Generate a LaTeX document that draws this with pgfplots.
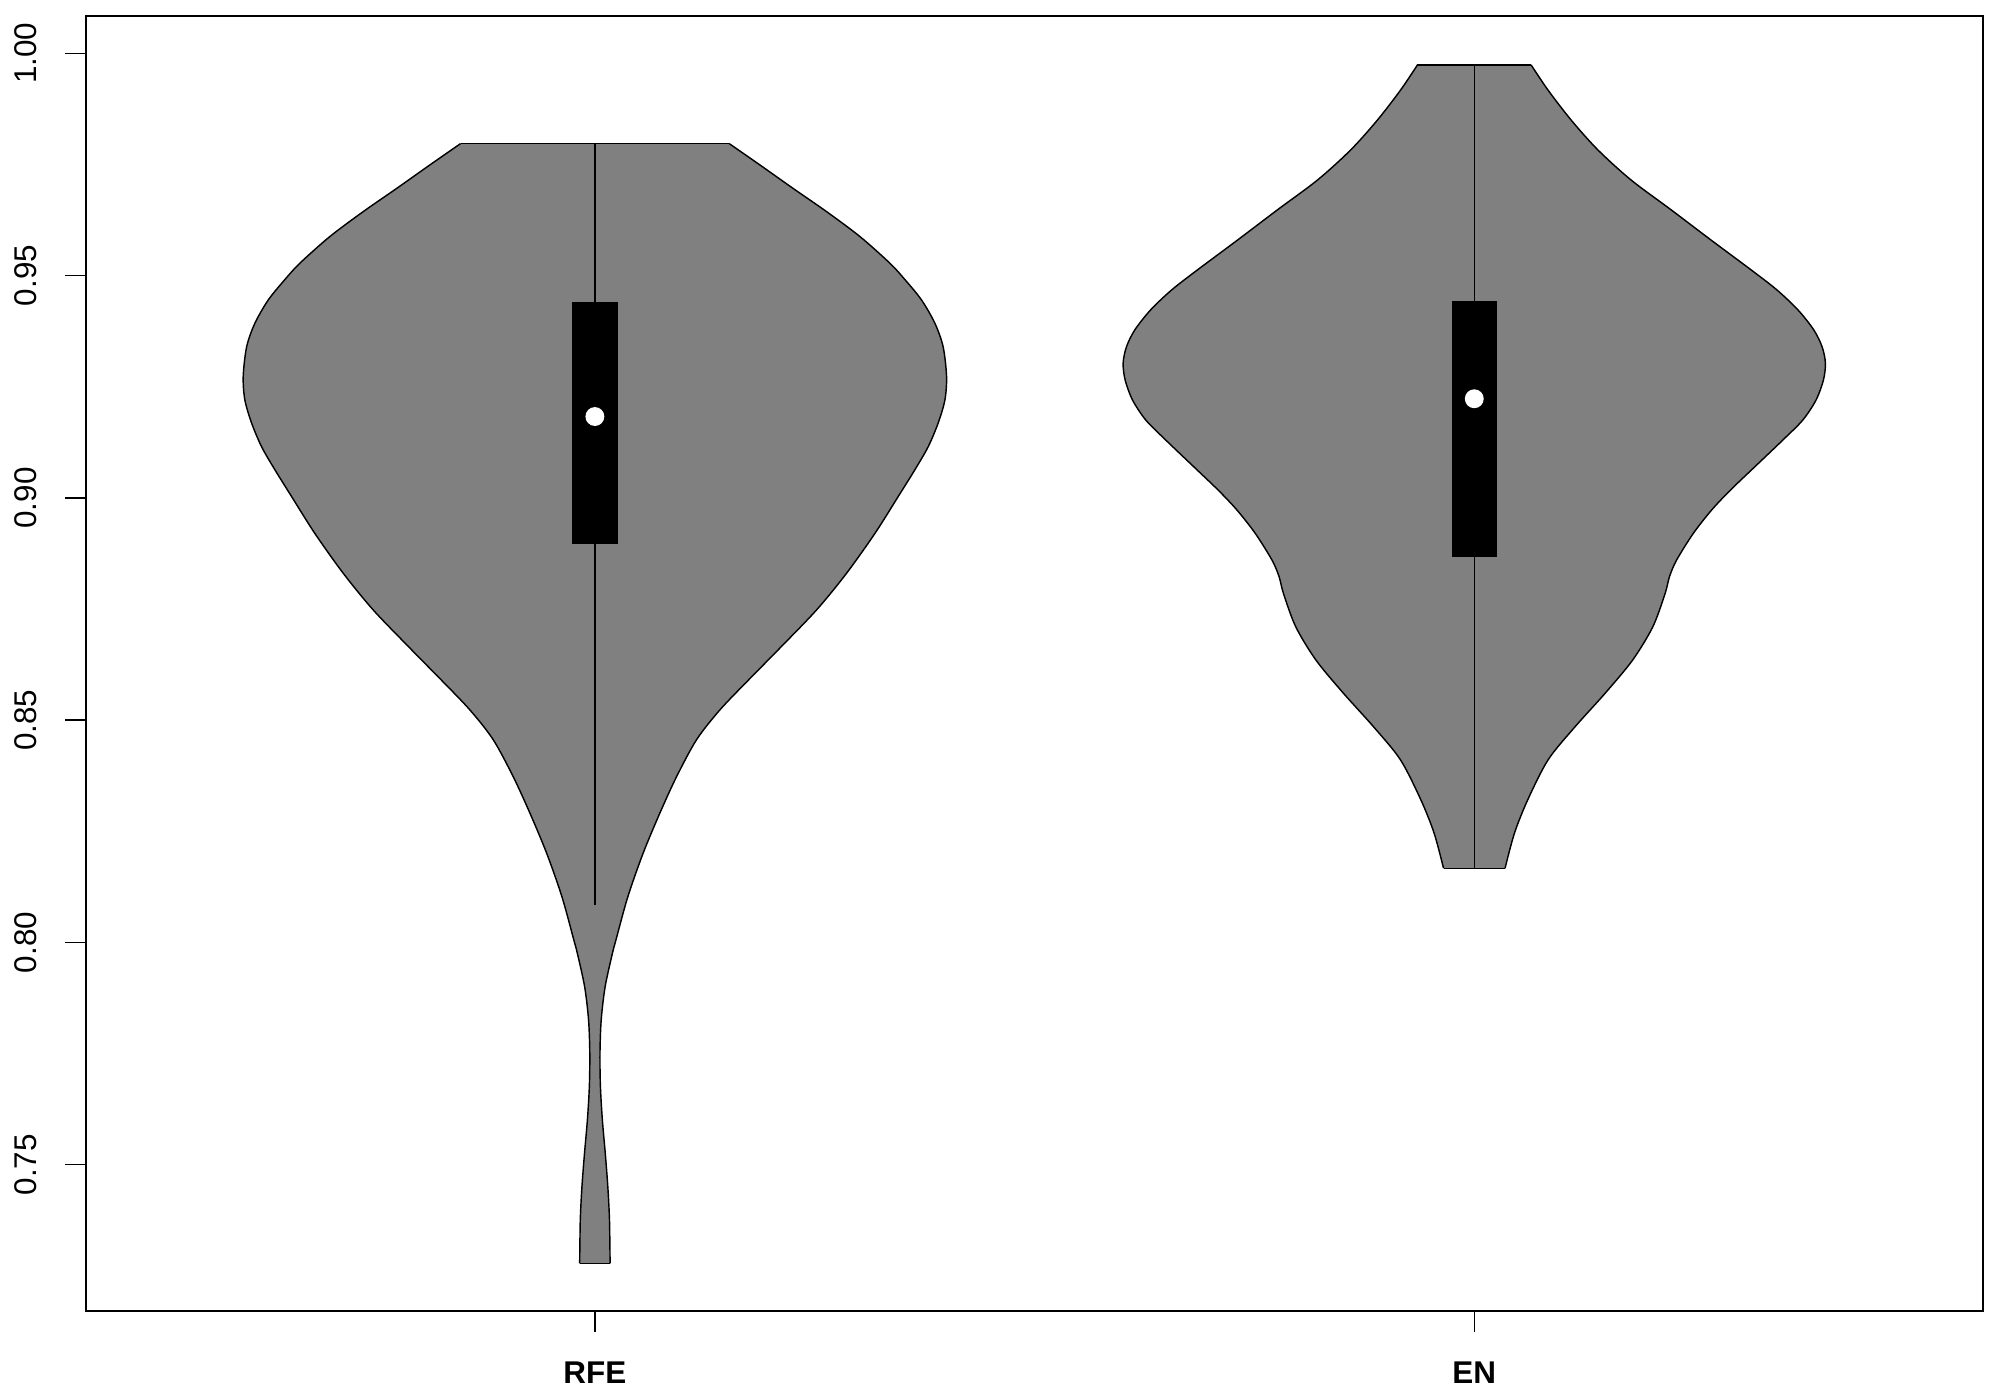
\documentclass[border=0pt]{standalone}
\usepackage{fontspec}
\setmainfont{Liberation Sans}
\usepackage{pgfplots}
\pgfplotsset{compat=1.18}
\usepackage{pgfplotstable}
\usepgfplotslibrary{fillbetween}
\definecolor{vgray}{RGB}{128,128,128}

\pgfplotstableread{
y w
0.9797 0.1527
0.9749 0.1876
0.9696 0.2255
0.9644 0.2634
0.9588 0.3013
0.9528 0.3354
0.9490 0.3530
0.9445 0.3715
0.9393 0.3866
0.9340 0.3960
0.9273 0.3999
0.9220 0.3980
0.9168 0.3903
0.9115 0.3790
0.9063 0.3638
0.9003 0.3449
0.8920 0.3184
0.8830 0.2860
0.8748 0.2521
0.8662 0.2103
0.8590 0.1745
0.8523 0.1421
0.8456 0.1156
0.8373 0.0929
0.8291 0.0739
0.8201 0.0549
0.8103 0.0375
0.8006 0.0240
0.7976 0.0200
0.7901 0.0117
0.7826 0.0072
0.7751 0.0058
0.7676 0.0063
0.7601 0.0085
0.7526 0.0118
0.7451 0.0147
0.7376 0.0166
0.7278 0.0173
}\rfe

\pgfplotstableread{
y w
0.9974 0.0646
0.9918 0.0836
0.9850 0.1101
0.9783 0.1404
0.9715 0.1783
0.9648 0.2238
0.9580 0.2692
0.9513 0.3147
0.9468 0.3440
0.9423 0.3680
0.9378 0.3860
0.9340 0.3955
0.9303 0.3993
0.9265 0.3970
0.9220 0.3886
0.9175 0.3735
0.9130 0.3508
0.9070 0.3190
0.9018 0.2915
0.8973 0.2700
0.8920 0.2490
0.8860 0.2300
0.8823 0.2220
0.8785 0.2170
0.8710 0.2030
0.8635 0.1800
0.8561 0.1490
0.8485 0.1145
0.8411 0.0840
0.8321 0.0608
0.8246 0.0457
0.8167 0.0350
}\en

\begin{document}
\begin{tikzpicture}
\begin{axis}[
  at={(0,0)}, anchor=south west,
  scale only axis, width=664.2pt, height=453.25pt,
  xmin=0.421, xmax=2.579, ymin=0.7171, ymax=1.0084,
  axis line style={line width=0.7pt},
  xtick={1,2}, xticklabels={\textbf{RFE},\textbf{EN}},
  ytick={0.75,0.80,0.85,0.90,0.95,1.00},
  yticklabels={0.75,0.80,0.85,0.90,0.95,1.00},
  tick align=outside, tick pos=left,
  major tick length=7.2pt,
  tick style={line width=0.5pt, black},
  ticklabel style={font=\fontsize{11}{13}\selectfont},
  yticklabel style={rotate=90, anchor=south},
  xticklabel style={anchor=north},
  xticklabel shift=7pt, yticklabel shift=6.3pt,
]
% RFE violin
\addplot[draw=none, smooth, name path=rfeL] table[x expr=1-\thisrow{w}, y=y]{\rfe};
\addplot[draw=none, smooth, name path=rfeR] table[x expr=1+\thisrow{w}, y=y]{\rfe};
\addplot[vgray] fill between[of=rfeL and rfeR, reverse=true];
\addplot[black, line width=0.5pt, smooth] table[x expr=1-\thisrow{w}, y=y]{\rfe};
\addplot[black, line width=0.5pt, smooth] table[x expr=1+\thisrow{w}, y=y]{\rfe};
\addplot[black, line width=0.5pt] coordinates {(0.8473,0.9797) (1.1527,0.9797)};
\addplot[black, line width=0.5pt] coordinates {(0.9827,0.7278) (1.0173,0.7278)};
% EN violin
\addplot[draw=none, smooth, name path=enL] table[x expr=2-\thisrow{w}, y=y]{\en};
\addplot[draw=none, smooth, name path=enR] table[x expr=2+\thisrow{w}, y=y]{\en};
\addplot[vgray] fill between[of=enL and enR, reverse=true];
\addplot[black, line width=0.5pt, smooth] table[x expr=2-\thisrow{w}, y=y]{\en};
\addplot[black, line width=0.5pt, smooth] table[x expr=2+\thisrow{w}, y=y]{\en};
\addplot[black, line width=0.5pt] coordinates {(1.9354,0.9974) (2.0646,0.9974)};
\addplot[black, line width=0.5pt] coordinates {(1.9650,0.8167) (2.0350,0.8167)};
% whiskers
\addplot[black, line width=0.5pt] coordinates {(1,0.8084) (1,0.9797)};
\addplot[black, line width=0.5pt] coordinates {(2,0.8167) (2,0.9974)};
% boxes
\addplot[fill=black, draw=none] coordinates {(0.9742,0.8896) (1.0258,0.8896) (1.0258,0.9440) (0.9742,0.9440)} -- cycle;
\addplot[fill=black, draw=none] coordinates {(1.9742,0.8866) (2.0258,0.8866) (2.0258,0.9443) (1.9742,0.9443)} -- cycle;
% medians
\addplot[only marks, mark=*, mark size=3.1pt, mark options={fill=white, draw=white}] coordinates {(1,0.9183) (2,0.9223)};
\end{axis}
\pgfresetboundingbox
\path[use as bounding box] (-30pt,-30.45pt) rectangle (670pt,458.85pt);
\end{tikzpicture}
\end{document}
